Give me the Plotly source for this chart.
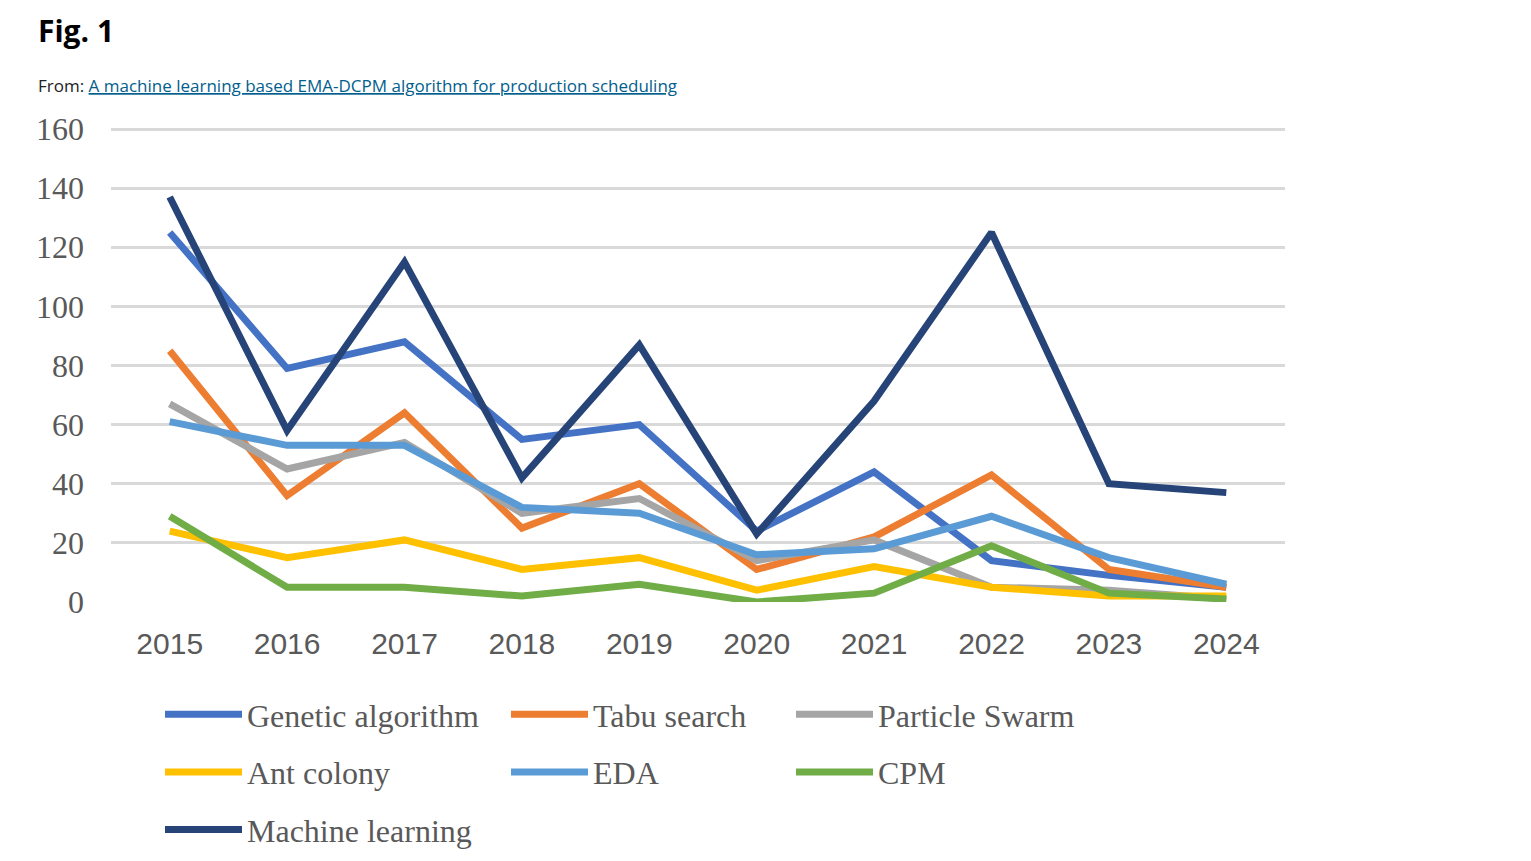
import plotly.graph_objects as go

years = ["2015", "2016", "2017", "2018", "2019", "2020", "2021", "2022", "2023", "2024"]
genetic = [125, 79, 88, 55, 60, 24, 44, 14, 9, 5]
tabu = [85, 36, 64, 25, 40, 11, 22, 43, 11, 5]
particle = [67, 45, 54, 30, 35, 14, 21, 5, 4, 1]
ant = [24, 15, 21, 11, 15, 4, 12, 5, 2, 2]
eda = [61, 53, 53, 32, 30, 16, 18, 29, 15, 6]
cpm = [29, 5, 5, 2, 6, 0, 3, 19, 3, 1]
ml = [137, 58, 115, 42, 87, 23, 68, 125, 40, 37]

W, H = 1531, 861
L, R, T, B = 111, 246, 128, 259
pw = W - L - R
ph = H - T - B


def px(x):
    return (x - L) / pw


def py(y):
    return (H - B - y) / ph


series = [
    ("Genetic algorithm", genetic, "#4472C4", "legend"),
    ("Tabu search", tabu, "#ED7D31", "legend2"),
    ("Particle Swarm", particle, "#A5A5A5", "legend3"),
    ("Ant colony", ant, "#FFC000", "legend"),
    ("EDA", eda, "#5B9BD5", "legend2"),
    ("CPM", cpm, "#70AD47", "legend3"),
    ("Machine learning", ml, "#264478", "legend"),
]

fig = go.Figure()
for name, vals, color, lg in series:
    fig.add_trace(go.Scatter(
        x=years, y=vals, name=name, mode="lines",
        line=dict(color=color, width=7),
        legend=lg, legendgroup=name,
    ))

leg_font = dict(family="Liberation Serif", size=32, color="#595959")
common_leg = dict(orientation="v", font=leg_font, itemwidth=77, tracegroupgap=13,
                  bgcolor="rgba(0,0,0,0)", xanchor="left", yanchor="top", itemclick=False)

fig.update_layout(
    width=W, height=H,
    margin=dict(l=L, r=R, t=T, b=B, autoexpand=False),
    paper_bgcolor="white", plot_bgcolor="white",
    xaxis=dict(
        type="category", range=[-0.5, 9.5], showgrid=False, zeroline=False,
        showline=False, ticks="", ticklabelstandoff=21,
        tickfont=dict(family="Liberation Sans", size=30, color="#595959"),
    ),
    yaxis=dict(
        range=[0, 160.34], tickvals=[0, 20, 40, 60, 80, 100, 120, 140, 160],
        showgrid=True, gridcolor="#D9D9D9", gridwidth=2.5,
        zeroline=False, showline=False, ticks="", ticklabelstandoff=26,
        tickfont=dict(family="Liberation Serif", size=32, color="#595959"),
    ),
    legend=dict(x=px(160), y=py(687), **common_leg),
    legend2=dict(x=px(506), y=py(687), **common_leg),
    legend3=dict(x=px(791), y=py(687), **common_leg),
    annotations=[
        dict(text="<b>Fig. 1</b>", xref="paper", yref="paper", x=px(36), y=py(30),
             xanchor="left", yanchor="middle", showarrow=False,
             font=dict(family="Open Sans", size=30, color="#000000")),
        dict(text="From: <span style='color:#025E8D'><u>A machine learning based EMA-DCPM algorithm for production scheduling</u></span>",
             xref="paper", yref="paper", x=px(36), y=py(85),
             xanchor="left", yanchor="middle", showarrow=False,
             font=dict(family="Open Sans", size=17, color="#222222")),
    ],
    showlegend=True,
)

fig.write_html("out.html")
